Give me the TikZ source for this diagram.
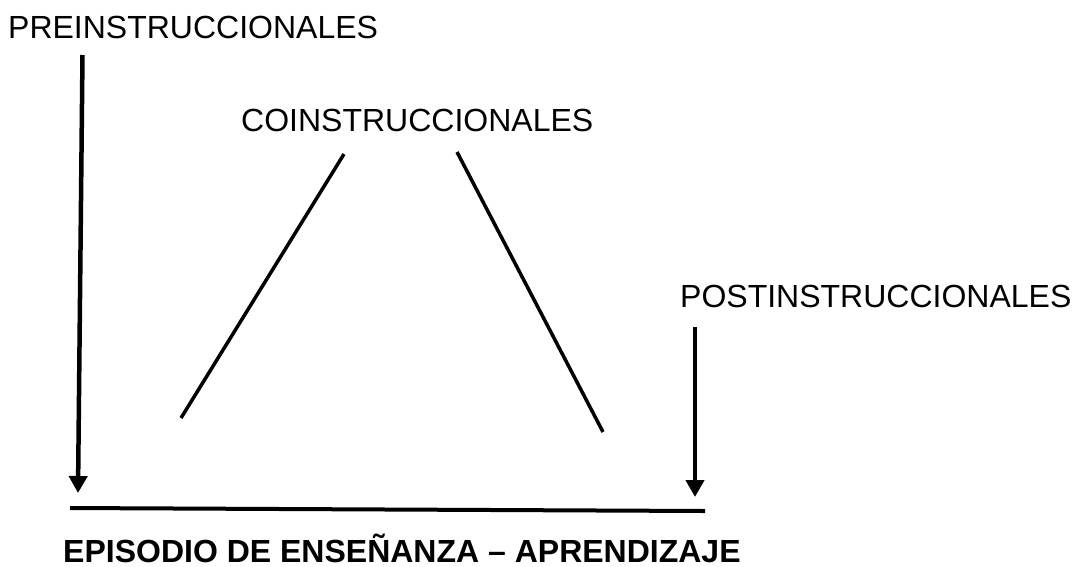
\documentclass[tikz,border=0pt]{standalone}
\usepackage{fontspec}
\setmainfont{Liberation Sans}
\usetikzlibrary{arrows.meta}
\begin{document}
\begin{tikzpicture}[x=1pt,y=-1pt,
  lbl/.style={anchor=base west,inner sep=0pt,font=\fontsize{32}{38}\selectfont},
  blbl/.style={lbl,font=\fontsize{32}{38}\selectfont\bfseries},
  arr/.style={line width=4.5pt,-{Triangle[width=18pt,length=17pt]}},
  bar/.style={line width=4pt},
  slant/.style={line width=3.5pt}]
\useasboundingbox (0,0) rectangle (1075,566);
\node[lbl] (pre) at (8,38.5) {PREINSTRUCCIONALES};
\node[lbl] (co) at (241,131) {COINSTRUCCIONALES};
\node[lbl] (post) at (680,307) {POSTINSTRUCCIONALES};
\node[blbl] (ep) at (63,562) {EPISODIO DE ENSEÑANZA – APRENDIZAJE};
\coordinate (preTop) at (82.5,55);
\coordinate (preTip) at (78,493);
\coordinate (postTop) at (695,327);
\coordinate (postTip) at (695,497);
\coordinate (barL) at (70,508);
\coordinate (barR) at (705,511);
\coordinate (lTop) at (344,154);
\coordinate (lBot) at (181,418);
\coordinate (rTop) at (457,152);
\coordinate (rBot) at (603,432);
\draw[arr] (preTop) -- (preTip);
\draw[arr] (postTop) -- (postTip);
\draw[bar] (barL) -- (barR);
\draw[slant] (lTop) -- (lBot);
\draw[slant] (rTop) -- (rBot);
\end{tikzpicture}
\end{document}
